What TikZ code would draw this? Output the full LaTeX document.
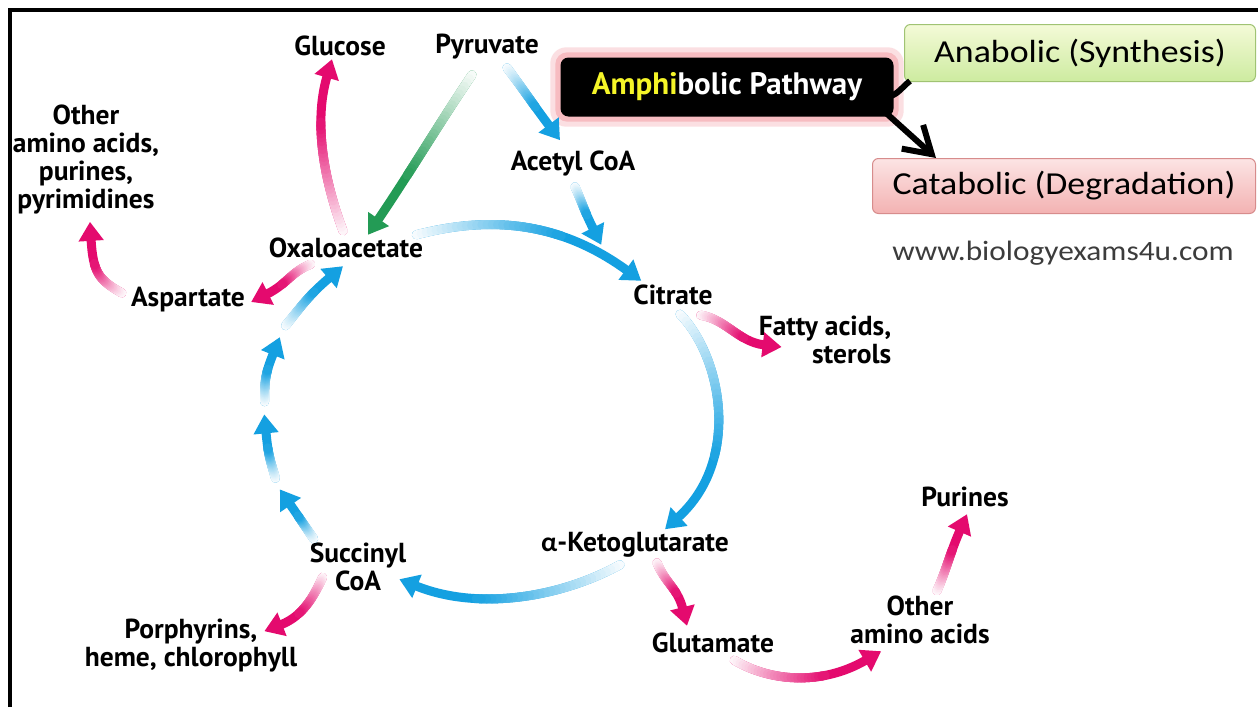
\documentclass[tikz,border=0pt]{standalone}
\usepackage{fontspec}
\setmainfont{PT Sans}
\newfontfamily\boxfont[FakeStretch=1.12]{Carlito}
\newfontfamily\grkfont{Carlito}
\usetikzlibrary{arrows.meta}
\usetikzlibrary{backgrounds}
\usetikzlibrary{calc}

\definecolor{cycblue}{RGB}{20,160,225}
\definecolor{sidepink}{RGB}{228,10,110}
\definecolor{pyrgreen}{RGB}{35,155,85}
\definecolor{amphiyellow}{RGB}{245,245,40}
\definecolor{glowpink}{RGB}{245,165,172}
\definecolor{anatop}{RGB}{244,250,215}
\definecolor{anabot}{RGB}{205,235,160}
\definecolor{anaedge}{RGB}{160,195,115}
\definecolor{catatop}{RGB}{252,228,228}
\definecolor{catabot}{RGB}{243,178,178}
\definecolor{cataedge}{RGB}{215,140,140}
\definecolor{webgrey}{RGB}{60,60,60}

% faded thick arrow: colour, from, ctrl1 (rel. to from), ctrl2 (rel. to tip), tip
\newcommand\fadearrow[5]{%
  \coordinate (ftip) at #5;
  \coordinate (fctl) at ($(ftip)+#4$);
  \coordinate (fbase) at ($(ftip)!18pt!(fctl)$);
  \draw[shaft, draw=#1, shorten >=-18pt, -{Triangle[length=19pt,width=24pt]}]
    #2 .. controls +#3 and +#4 .. (fbase)
    \foreach \k in {0,...,28}{coordinate[pos=\k/40] (f\k)};
  \foreach \k [evaluate=\k as \j using int(\k+1),
               evaluate=\k as \p using int(3.4*\k+4)] in {0,...,27}{
    \draw[shaft, draw=#1!\p!white] (f\k) -- (f\j);
  }%
}

\begin{document}
\begin{tikzpicture}[
    x=1pt, y=-1pt,
    lbl/.style={
      font=\fontsize{27.5}{28}\selectfont\bfseries,
      align=center,
      inner sep=0pt
    },
    shaft/.style={line width=9pt, line cap=round},
    amphbox/.style={
      fill=black,
      rounded corners=8pt,
      minimum width=333pt,
      minimum height=59pt,
      text=white,
      font=\fontsize{31}{33}\selectfont\bfseries
    },
    anabox/.style={
      rounded corners=6pt,
      top color=anatop, bottom color=anabot,
      draw=anaedge, line width=1pt,
      minimum width=351pt, minimum height=57pt,
      font=\boxfont\fontsize{32}{34}\selectfont
    },
    catabox/.style={
      anabox,
      top color=catatop, bottom color=catabot,
      draw=cataedge,
      minimum width=383pt, minimum height=55pt
    },
    webtxt/.style={
      text=webgrey,
      font=\boxfont\fontsize{28}{30}\selectfont
    },
    link/.style={line width=6pt, draw=black},
    ]

    \useasboundingbox (0,0) rectangle (1258,707);

    % metabolites
    \node[lbl] (glu)  at (340,46)  {Glucose};
    \node[lbl] (pyr)  at (487,47)  {Pyruvate};
    \node[lbl] (oth1) at (86,159)  {Other\\amino acids,\\purines,\\pyrimidines};
    \node[lbl] (oxa)  at (346,248) {Oxaloacetate};
    \node[lbl] (asp)  at (188,300) {Aspartate};
    \node[lbl] (acc)  at (573,163) {Acetyl CoA};
    \node[lbl] (cit)  at (673,295) {Citrate};
    \node[lbl, align=right] (fat) at (825,340) {Fatty acids,\\sterols};
    \node[lbl] (akg)  at (635,545) {{\grkfont α}-Ketoglutarate};
    \node[lbl] (glt)  at (713,643) {Glutamate};
    \node[lbl] (suc)  at (358,567) {Succinyl\\CoA};
    \node[lbl] (por)  at (191,646) {Porphyrins,\\heme, chlorophyll};
    \node[lbl] (pur)  at (965,497) {Purines};
    \node[lbl] (oth2) at (920,620) {Other\\amino acids};

    % legend boxes
    \node[amphbox] (amph) at (727,87) {{\color{amphiyellow}Amphi}bolic Pathway};
    \node[anabox]  (ana)  at (1080,53) {Anabolic (Synthesis)};
    \node[catabox] (cata) at (1064,186) {Catabolic (Degradation)};
    \node[webtxt]  (web)  at (1063,253) {www.biologyexams4u.com};

    \begin{scope}[on background layer]
      \fill[white] (0,0) rectangle (1258,707);
      \fill[glowpink, opacity=.35, rounded corners=16pt]
        ([shift={(-10,-10)}]amph.north west) rectangle ([shift={(10,10)}]amph.south east);
      \fill[glowpink, opacity=.6, rounded corners=12pt]
        ([shift={(-5,-5)}]amph.north west) rectangle ([shift={(5,5)}]amph.south east);
    \end{scope}

    \draw[link] ([shift={(-6,10)}]amph.east) .. controls +(10,-2) and +(-8,6) .. ([shift={(6,-1)}]ana.south west);
    \draw[link, -{Straight Barb[length=26pt,width=32pt]}]
      ([shift={(-8,-4)}]amph.south east) -- ([xshift=64]cata.north west);

    % frame
    \draw[line width=4pt] (10,707) -- (10,10) -- (1258,10);

    % cycle
    \fadearrow{cycblue}{([shift={(-7,-3)}]oxa.north east)}{(65,-17)}{(-73,-53)}{([shift={(8,-4)}]cit.north west)}
    \fadearrow{cycblue}{([shift={(7,9)}]cit.south)}{(42,43)}{(63,-57)}{([shift={(30,-3)}]akg.north)}
    \fadearrow{cycblue}{([shift={(-15,7)}]akg.south)}{(-60,33)}{(62,25)}{([shift={(-7,-12)}]suc.south east)}

    \path ([shift={(4,-4)}]suc.north west) .. controls +(-67,-63) and +(-103,61) .. ([shift={(-3,8)}]oxa.south)
      coordinate[pos=0] (sq0) coordinate[pos=.21] (sq1)
      coordinate[pos=.25] (sq2) coordinate[pos=.46] (sq3)
      coordinate[pos=.5] (sq4) coordinate[pos=.71] (sq5)
      coordinate[pos=.75] (sq6) coordinate[pos=1] (sq7);
    \fadearrow{cycblue}{(sq0)}{(-11,-16)}{(11,16)}{(sq1)}
    \fadearrow{cycblue}{(sq2)}{(-6,-20)}{(2,21)}{(sq3)}
    \fadearrow{cycblue}{(sq4)}{(0,-21)}{(-8,20)}{(sq5)}
    \fadearrow{cycblue}{(sq6)}{(17,-21)}{(-20,17)}{(sq7)}

    % feeding in
    \fadearrow{cycblue}{([shift={(20,8)}]pyr.south)}{(18,24)}{(-18,-24)}{([shift={(-13,-10)}]acc.north)}
    \fadearrow{cycblue}{([shift={(2,11)}]acc.south)}{(8,18)}{(-9,-18)}{([shift={(-32,-40)}]cit.north west)}
    \fadearrow{pyrgreen}{([shift={(-15,15)}]pyr.south)}{(-35,52)}{(35,-52)}{([shift={(22,-3)}]oxa.north)}

    % leaving
    \fadearrow{sidepink}{([shift={(-3,-7)}]oxa.north)}{(-18,-48)}{(-14,48)}{([shift={(-8,3)}]glu.south)}
    \fadearrow{sidepink}{([shift={(42,6)}]oxa.south west)}{(-20,8)}{(20,-10)}{([shift={(6,2)}]asp.east)}
    \fadearrow{sidepink}{([shift={(-9,-7)}]asp.west)}{(-23,-13)}{(2,33)}{([shift={(4,8)}]oth1.south)}
    \fadearrow{sidepink}{([shift={(-12,10)}]cit.south east)}{(25,4)}{(-25,-3)}{([shift={(23,7)}]fat.west)}
    \fadearrow{sidepink}{([shift={(13,-14)}]suc.south west)}{(-8,17)}{(23,-9)}{([shift={(-33,12)}]por.north east)}
    \fadearrow{sidepink}{([shift={(22,5)}]akg.south)}{(8,20)}{(-5,-20)}{([shift={(-26,-7)}]glt.north)}
    \fadearrow{sidepink}{([shift={(-40,7)}]glt.south east)}{(37,22)}{(-43,25)}{([shift={(31,7)}]oth2.south west)}
    \fadearrow{sidepink}{([shift={(17,-5)}]oth2.north)}{(10,-23)}{(-10,23)}{([shift={(2,7)}]pur.south)}
  \end{tikzpicture}
\end{document}
